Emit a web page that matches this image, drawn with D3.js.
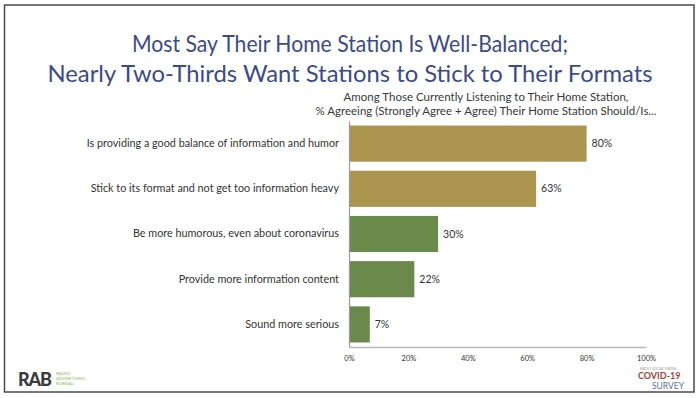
<!DOCTYPE html>
<html>
<head>
<meta charset="utf-8">
<script src="https://cdn.jsdelivr.net/npm/d3@7"></script>
<style>
  body { margin: 0; background: #fff; }
  text { font-family: Lato, "Open Sans", sans-serif; }
</style>
</head>
<body>
<div id="chart"></div>
<script>
// chart data
var categories = [
  "Is providing a good balance of information and humor",
  "Stick to its format and not get too information heavy",
  "Be more humorous, even about coronavirus",
  "Provide more information content",
  "Sound more serious"
];
var values = [80, 63, 30, 22, 7];
var groups = ["current", "current", "change", "change", "change"];
var tickValues = [0, 20, 40, 60, 80, 100];
var titleLines = [
  "Most Say Their Home Station Is Well-Balanced;",
  "Nearly Two-Thirds Want Stations to Stick to Their Formats"
];
var subtitleLines = [
  "Among Those Currently Listening to Their Home Station,",
  "% Agreeing (Strongly Agree + Agree) Their Home Station Should/Is..."
];

var W = 700, H = 398;
var margin = {top: 121, right: 54, bottom: 51, left: 349},
    width = W - margin.left - margin.right,
    height = H - margin.top - margin.bottom;

var svg = d3.select("#chart")
  .append("svg")
    .attr("width", W)
    .attr("height", H);

// slide frame
svg.append("rect")
  .attr("x", 4.5).attr("y", 5)
  .attr("width", 689.5).attr("height", 387)
  .attr("fill", "#fff")
  .attr("stroke", "#4a4a4a")
  .attr("stroke-width", 1.5);

// title
svg.append("g").selectAll("text")
  .data(titleLines)
  .enter()
  .append("text")
    .attr("x", 350)
    .attr("y", function (d, i) { return 52 + i * 30; })
    .attr("text-anchor", "middle")
    .attr("font-size", 24)
    .attr("textLength", function (d, i) { return i === 0 ? 436 : 605; })
    .attr("lengthAdjust", "spacingAndGlyphs")
    .attr("fill", "#3b4a8c")
    .text(function (d) { return d; });

// subtitle
svg.append("g").selectAll("text")
  .data(subtitleLines)
  .enter()
  .append("text")
    .attr("x", 486)
    .attr("y", function (d, i) { return 101 + i * 14; })
    .attr("text-anchor", "middle")
    .attr("font-size", 10.5)
    .attr("textLength", function (d, i) { return i === 0 ? 285 : 341; })
    .attr("lengthAdjust", "spacingAndGlyphs")
    .attr("fill", "#3a3a3a")
    .text(function (d) { return d; });

var g = svg.append("g")
  .attr("transform", "translate(" + margin.left + "," + margin.top + ")");

var x = d3.scaleLinear()
  .domain([0, 100])
  .range([0, width]);

var y = d3.scaleBand()
  .domain(categories)
  .range([0, height])
  .paddingInner(0.2)
  .paddingOuter(0.1);

var color = d3.scaleOrdinal()
  .domain(["current", "change"])
  .range(["#ac954f", "#6a8a4c"]);

// bars
g.append("g").selectAll("rect")
  .data(categories)
  .enter()
  .append("rect")
    .attr("x", x(0))
    .attr("y", function (d) { return y(d); })
    .attr("width", function (d, i) { return x(values[i]) - x(0); })
    .attr("height", y.bandwidth())
    .attr("fill", function (d, i) { return color(groups[i]); });

// value labels
g.append("g").selectAll("text")
  .data(categories)
  .enter()
  .append("text")
    .attr("x", function (d, i) { return x(values[i]) + 5; })
    .attr("y", function (d) { return y(d) + y.bandwidth() / 2; })
    .attr("dy", "0.35em")
    .attr("font-size", 10.5)
    .attr("fill", "#333")
    .text(function (d, i) { return values[i] + "%"; });

// Y axis (category labels)
var yAxis = g.append("g")
  .call(d3.axisLeft(y).tickSize(0).tickPadding(10));
yAxis.select(".domain").attr("stroke", "#999").attr("stroke-width", 1.2);
yAxis.selectAll("text")
  .attr("font-size", 10.8)
  .attr("fill", "#333")
  .style("font-family", "Lato, sans-serif");

// X axis
var xAxis = g.append("g")
  .attr("transform", "translate(0," + height + ")")
  .call(d3.axisBottom(x).tickValues(tickValues).tickSize(0).tickPadding(9)
    .tickFormat(function (d) { return d + "%"; }));
xAxis.select(".domain").attr("stroke", "#bbb").attr("stroke-width", 1.5);
xAxis.selectAll("text")
  .attr("font-size", 7.5)
  .attr("fill", "#333")
  .style("font-family", "Lato, sans-serif");

// RAB logo
svg.append("text")
  .attr("x", 18).attr("y", 386)
  .attr("font-size", 18)
  .attr("font-weight", 900)
  .attr("letter-spacing", -1.2)
  .attr("fill", "#3c3c3c")
  .text("RAB");
var rabSmall = ["RADIO", "ADVERTISING", "BUREAU"];
svg.append("g").selectAll("text")
  .data(rabSmall)
  .enter()
  .append("text")
    .attr("x", 56)
    .attr("y", function (d, i) { return 375 + i * 5; })
    .attr("font-size", 4.5)
    .attr("fill", "#8cbf5a")
    .text(function (d) { return d; });

// COVID-19 survey logo
svg.append("text")
  .attr("x", 640).attr("y", 370)
  .attr("font-size", 3.5)
  .attr("fill", "#999")
  .text("RADIO SOCIAL MEDIA");
svg.append("text")
  .attr("x", 638).attr("y", 379)
  .attr("font-size", 9)
  .attr("font-weight", 700)
  .attr("fill", "#a3423c")
  .text("COVID-19");
svg.append("text")
  .attr("x", 652).attr("y", 389)
  .attr("font-size", 8.5)
  .attr("fill", "#5570a8")
  .text("SURVEY");
</script>
</body>
</html>
